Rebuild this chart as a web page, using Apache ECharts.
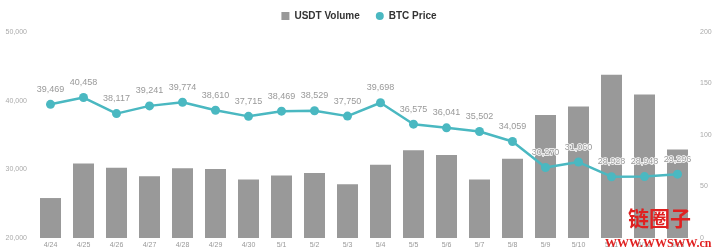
<!DOCTYPE html>
<html>
<head>
<meta charset="utf-8">
<script src="https://cdn.jsdelivr.net/npm/echarts@6/dist/echarts.min.js"></script>
<style>
html,body{margin:0;padding:0;background:#fff;}
#chart{width:718px;height:252px;}
</style>
</head>
<body>
<div id="chart"></div>
<script>
var categories = ['4/24','4/25','4/26','4/27','4/28','4/29','4/30','5/1','5/2','5/3','5/4','5/5','5/6','5/7','5/8','5/9','5/10','5/11','5/12','5/13'];
var usdtVolume = [38.8,72.4,68.3,59.9,67.6,67,56.7,60.6,63.2,52.2,71.2,85.3,80.5,56.7,76.9,119.5,127.6,158.4,139.4,85.9];
var btcPrice = [39469,40458,38117,39241,39774,38610,37715,38469,38529,37750,39698,36575,36041,35502,34059,30270,31060,28928,28948,29296];
var leftTicks = [20000,30000,40000,50000];
var rightTicks = [0,50,100,150,200];

var chart = echarts.init(document.getElementById('chart'), null, {renderer:'canvas'});
function fmt(v){ return v.toString().replace(/\B(?=(\d{3})+(?!\d))/g, ','); }
chart.setOption({
  animation:false,
  backgroundColor:'#fff',
  textStyle:{fontFamily:'Liberation Sans, Arial, sans-serif'},
  legend:{
    top:6, left:'center', itemGap:16, itemWidth:8, itemHeight:8,
    textStyle:{fontSize:10, color:'#333', fontWeight:'bold'},
    data:[{name:'USDT Volume', icon:'rect'},{name:'BTC Price', icon:'circle'}]
  },
  grid:{left:34, right:24, top:32, bottom:14},
  xAxis:{
    type:'category', data:categories,
    axisLine:{show:false}, axisTick:{show:false},
    axisLabel:{fontSize:7, color:'#999', margin:4}
  },
  yAxis:[
    {type:'value', min:leftTicks[0], max:leftTicks[leftTicks.length-1], interval:10000,
     splitLine:{show:false}, axisLine:{show:false}, axisTick:{show:false},
     axisLabel:{fontSize:7, color:'#aaa', margin:7, formatter:function(v){return fmt(v);}}},
    {type:'value', min:rightTicks[0], max:rightTicks[rightTicks.length-1], interval:50,
     splitLine:{show:false}, axisLine:{show:false}, axisTick:{show:false},
     axisLabel:{fontSize:7, color:'#aaa', margin:6}}
  ],
  series:[
    {name:'USDT Volume', type:'bar', yAxisIndex:1, data:usdtVolume,
     barWidth:21, itemStyle:{color:'#999999'}},
    {name:'BTC Price', type:'line', yAxisIndex:0, data:btcPrice,
     symbol:'circle', symbolSize:9,
     lineStyle:{color:'#4ab8c1', width:2.5},
     itemStyle:{color:'#4ab8c1'},
     label:{show:true, position:'top', distance:6, fontSize:9, color:'#999',
       textBorderColor:'#fff', textBorderWidth:1.5,
       formatter:function(p){return fmt(p.value);}}}
  ],
  graphic:[
    {type:'text', left:628, top:208, z:100,
     style:{text:'链圈子', fill:'#e02020', font:'bold 21px "Noto Sans CJK SC"'}},
    {type:'text', left:605, top:238, z:100,
     style:{text:'WWW.WWSWW.cn', fill:'#e02020', font:'bold 12px "Liberation Serif", serif'}}
  ]
});
</script>
</body>
</html>
